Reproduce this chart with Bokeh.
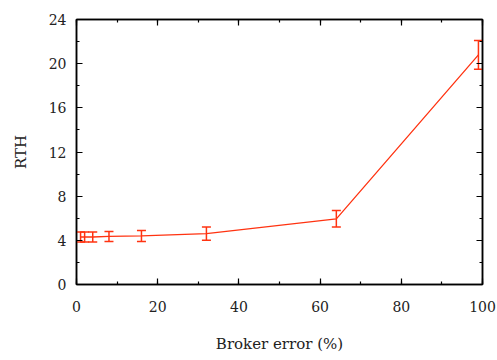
from bokeh.plotting import figure
from bokeh.models import (Range1d, LinearAxis, SingleIntervalTicker, Whisker, TeeHead,
                          ColumnDataSource)
from bokeh.embed import file_html
from bokeh.resources import INLINE

broker_error = [1, 2, 4, 8, 16, 32, 64, 99]
rth = [4.3, 4.3, 4.3, 4.35, 4.4, 4.6, 5.95, 20.8]
rth_err = [0.45, 0.45, 0.45, 0.45, 0.5, 0.6, 0.75, 1.3]

RED = "#ff3311"
FONT = "DejaVu Serif"

src = ColumnDataSource(dict(
    x=broker_error, y=rth,
    lo=[v - e for v, e in zip(rth, rth_err)],
    hi=[v + e for v, e in zip(rth, rth_err)],
))

p = figure(frame_width=406, frame_height=265, output_backend="svg", toolbar_location=None,
           x_range=Range1d(0, 100), y_range=Range1d(0, 24),
           min_border_left=76, min_border_right=15, min_border_top=19, min_border_bottom=76)
p.xaxis.visible = False
p.yaxis.visible = False
p.grid.visible = False
p.outline_line_color = "black"
p.outline_line_width = 1.5

def style(ax, labels=True):
    ax.axis_line_color = "black"
    ax.axis_line_width = 1.5
    ax.major_tick_in = 6
    ax.major_tick_out = 0
    ax.minor_tick_in = 3
    ax.minor_tick_out = 0
    ax.major_tick_line_width = 1.2
    ax.minor_tick_line_width = 1.2
    ax.major_label_text_font = FONT
    ax.major_label_text_font_size = "14px"
    ax.major_label_text_color = "#222222"
    ax.axis_label_text_font = FONT
    ax.axis_label_text_font_size = "15px"
    ax.axis_label_text_font_style = "normal"
    ax.axis_label_text_color = "#222222"
    if not labels:
        ax.major_label_text_font_size = "1px"
        ax.major_label_text_alpha = 0
        ax.major_label_standoff = 0

xb = LinearAxis(ticker=SingleIntervalTicker(interval=20, num_minor_ticks=2),
                axis_label="Broker error (%)")
style(xb)
xb.major_label_standoff = 16
xb.axis_label_standoff = 20
p.add_layout(xb, "below")

yl = LinearAxis(ticker=SingleIntervalTicker(interval=4, num_minor_ticks=2), axis_label="RTH")
style(yl)
yl.major_label_standoff = 10
yl.axis_label_standoff = 16
p.add_layout(yl, "left")

xt = LinearAxis(ticker=SingleIntervalTicker(interval=20, num_minor_ticks=2))
style(xt, labels=False)
p.add_layout(xt, "above")

yr = LinearAxis(ticker=SingleIntervalTicker(interval=4, num_minor_ticks=2))
style(yr, labels=False)
p.add_layout(yr, "right")

p.line("x", "y", source=src, line_color=RED, line_width=1.3)
w = Whisker(base="x", lower="lo", upper="hi", source=src, line_color=RED, line_width=1.5,
            upper_head=TeeHead(size=9, line_color=RED, line_width=1.5),
            lower_head=TeeHead(size=9, line_color=RED, line_width=1.5))
p.add_layout(w)

open("out.html", "w").write(file_html(p, INLINE))
